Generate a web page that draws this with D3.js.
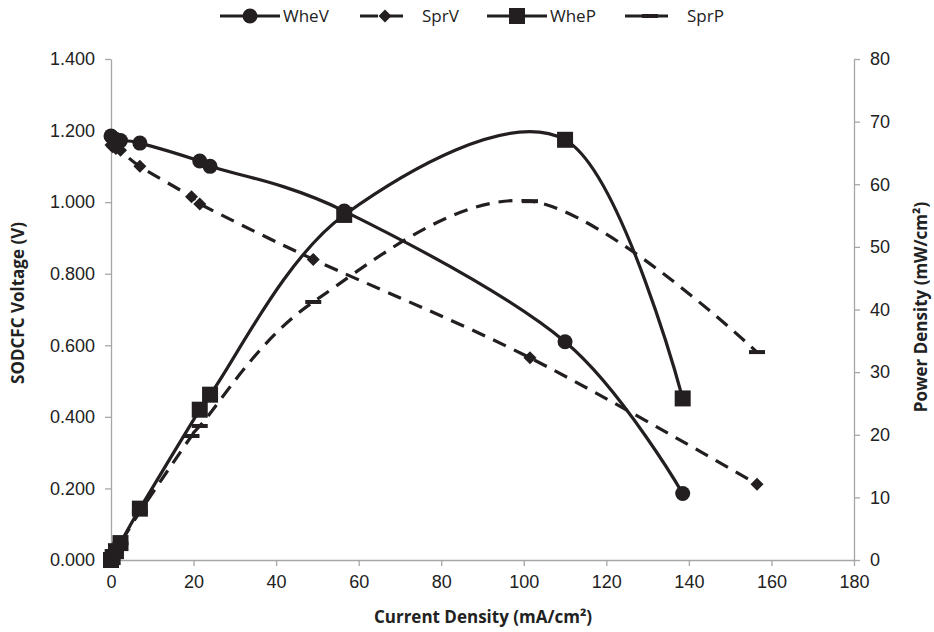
<!DOCTYPE html>
<html>
<head>
<meta charset="utf-8">
<script src="https://cdn.jsdelivr.net/npm/d3@7"></script>
<style>
  body { margin: 0; background: #fff; }
  svg { font-family: "Open Sans", "Liberation Sans", sans-serif; }
</style>
</head>
<body>
<div id="chart"></div>
<script>
// current density (mA/cm2) for each cell
var wheCurrent = [0, 0.4, 1.2, 2.3, 7, 21.5, 24, 56.5, 110, 138.5];
var sprCurrent = [0, 0.4, 1.2, 2.3, 7, 19.5, 21.5, 49, 101.5, 156.5];
// voltage (V)
var wheVoltage = [1.185, 1.18, 1.175, 1.172, 1.165, 1.115, 1.10, 0.975, 0.61, 0.186];
var sprVoltage = [1.16, 1.155, 1.15, 1.145, 1.10, 1.015, 0.995, 0.84, 0.565, 0.212];
// power density (mW/cm2)
var whePower = [0, 0.47, 1.41, 2.7, 8.2, 24.0, 26.4, 55.1, 67.1, 25.8];
var sprPower = [0, 0.46, 1.38, 2.63, 7.7, 19.8, 21.4, 41.2, 57.3, 33.2];

var xTicks = [0, 20, 40, 60, 80, 100, 120, 140, 160, 180];
var vTicks = [0, 0.2, 0.4, 0.6, 0.8, 1.0, 1.2, 1.4];
var pTicks = [0, 10, 20, 30, 40, 50, 60, 70, 80];

var W = 934, H = 632;
var margin = {top: 59, right: 80, bottom: 72, left: 111};
var width = W - margin.left - margin.right,
    height = H - margin.top - margin.bottom;

var ink = "#231f20", axisGrey = "#a6a6a6";

var svg = d3.select("#chart")
  .append("svg")
    .attr("width", W)
    .attr("height", H);

var g = svg.append("g")
    .attr("transform", "translate(" + margin.left + "," + margin.top + ")");

var x = d3.scaleLinear().domain([0, 180]).range([0, width]);
var yV = d3.scaleLinear().domain([0, 1.4]).range([height, 0]);
var yP = d3.scaleLinear().domain([0, 80]).range([height, 0]);

function styleAxis(sel) {
  sel.selectAll("path, line").attr("stroke", axisGrey).attr("stroke-width", 1.3);
  sel.selectAll("text").attr("fill", "#222").style("font-size", "18px");
}

// axes
g.append("g")
  .attr("transform", "translate(0," + height + ")")
  .call(d3.axisBottom(x).tickValues(xTicks).tickSize(6).tickSizeOuter(0).tickPadding(9))
  .call(styleAxis);

g.append("g")
  .call(d3.axisLeft(yV).tickValues(vTicks).tickFormat(d3.format(".3f")).tickSize(6).tickSizeOuter(0).tickPadding(10))
  .call(styleAxis);

g.append("g")
  .attr("transform", "translate(" + width + ",0)")
  .call(d3.axisRight(yP).tickValues(pTicks).tickSize(6).tickSizeOuter(0).tickPadding(10))
  .call(styleAxis);

// axis titles
function axisTitle(tx, ty, rot, label) {
  svg.append("text")
    .attr("transform", "translate(" + tx + "," + ty + ")" + (rot ? " rotate(-90)" : ""))
    .attr("text-anchor", "middle")
    .style("font-size", "17px")
    .style("font-weight", "bold")
    .attr("fill", "#222")
    .text(label);
}
axisTitle(483, 623, false, "Current Density (mA/cm²)");
axisTitle(24, 303, true, "SODCFC Voltage (V)");
axisTitle(927, 307, true, "Power Density (mW/cm²)");

var series = [
  {name: "WheV", xs: wheCurrent, ys: wheVoltage, y: yV, dash: null, marker: "circle"},
  {name: "SprV", xs: sprCurrent, ys: sprVoltage, y: yV, dash: "14,9", marker: "diamond"},
  {name: "WheP", xs: wheCurrent, ys: whePower, y: yP, dash: null, marker: "square"},
  {name: "SprP", xs: sprCurrent, ys: sprPower, y: yP, dash: "14,9", marker: "bar"}
];

function drawMarker(sel, type) {
  if (type === "circle") {
    sel.append("circle").attr("r", 7.5).attr("fill", ink);
  } else if (type === "square") {
    sel.append("rect").attr("x", -8).attr("y", -8).attr("width", 16).attr("height", 16).attr("fill", ink);
  } else if (type === "diamond") {
    sel.append("path").attr("d", "M0,-6.5L6.5,0L0,6.5L-6.5,0Z").attr("fill", ink);
  } else {
    sel.append("rect").attr("x", -8).attr("y", -2).attr("width", 16).attr("height", 4).attr("fill", ink);
  }
}

series.forEach(function(s) {
  var pts = s.xs.map(function(v, i) { return [v, s.ys[i]]; });
  var line = d3.line()
    .x(function(d) { return x(d[0]); })
    .y(function(d) { return s.y(d[1]); })
    .curve(d3.curveCatmullRom.alpha(0));

  g.append("path")
    .datum(pts)
    .attr("fill", "none")
    .attr("stroke", ink)
    .attr("stroke-width", 3.2)
    .attr("stroke-dasharray", s.dash)
    .attr("d", line);

  g.selectAll(".m-" + s.name)
    .data(pts)
    .enter().append("g")
      .attr("class", "m-" + s.name)
      .attr("transform", function(d) { return "translate(" + x(d[0]) + "," + s.y(d[1]) + ")"; })
      .each(function() { drawMarker(d3.select(this), s.marker); });
});

// legend
var legendX = [220, 360, 487, 625];
series.forEach(function(s, i) {
  var lg = svg.append("g").attr("transform", "translate(" + legendX[i] + ",16)");
  lg.append("line")
    .attr("x1", 0).attr("x2", s.dash ? 50 : 60)
    .attr("stroke", ink).attr("stroke-width", 3.2)
    .attr("stroke-dasharray", s.dash ? "18,7" : null);
  var m = lg.append("g").attr("transform", "translate(" + (s.dash ? 25 : 30) + ",0)");
  drawMarker(m, s.marker);
  lg.append("text")
    .attr("x", s.dash ? 62 : 63)
    .attr("y", 6)
    .style("font-size", "17px")
    .attr("fill", "#222")
    .text(s.name);
});
</script>
</body>
</html>
